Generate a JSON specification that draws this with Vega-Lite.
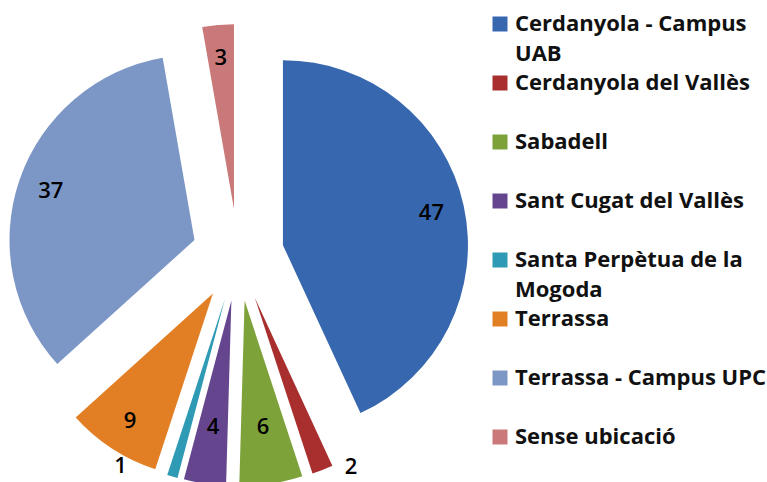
{
  "$schema": "https://vega.github.io/schema/vega-lite/v6.json",
  "autosize": "none",
  "width": 476,
  "height": 454,
  "padding": {"left": 0, "top": 28, "right": 291, "bottom": 0},
  "background": "white",
  "view": {"stroke": null},
  "data": {
    "values": [
      {"cat": "Cerdanyola - Campus UAB", "value": 47, "ord": 1},
      {"cat": "Cerdanyola del Vallès", "value": 2, "ord": 2},
      {"cat": "Sabadell", "value": 6, "ord": 3},
      {"cat": "Sant Cugat del Vallès", "value": 4, "ord": 4},
      {"cat": "Santa Perpètua de la Mogoda", "value": 1, "ord": 5},
      {"cat": "Terrassa", "value": 9, "ord": 6},
      {"cat": "Terrassa - Campus UPC", "value": 37, "ord": 7},
      {"cat": "Sense ubicació", "value": 3, "ord": 8}
    ]
  },
  "encoding": {
    "theta": {"field": "value", "type": "quantitative", "stack": true},
    "order": {"field": "ord", "type": "quantitative"},
    "color": {
      "field": "cat",
      "type": "nominal",
      "scale": {
        "domain": ["Cerdanyola - Campus UAB", "Cerdanyola del Vallès", "Sabadell", "Sant Cugat del Vallès", "Santa Perpètua de la Mogoda", "Terrassa", "Terrassa - Campus UPC", "Sense ubicació"],
        "range": ["#3767AE", "#A92F2F", "#7EA23A", "#65468E", "#2E9AB4", "#E27E24", "#7C97C6", "#C97979"]
      },
      "legend": {
        "title": null,
        "orient": "none",
        "legendX": 489,
        "legendY": -15,
        "padding": 0,
        "symbolType": "square",
        "symbolSize": 225,
        "symbolStrokeWidth": 0,
        "symbolOpacity": 1,
        "labelFont": "Open Sans",
        "labelFontSize": 22,
        "labelFontWeight": "bold",
        "labelColor": "#111111",
        "labelOffset": 4,
        "labelLimit": 300,
        "rowPadding": 7,
        "gridAlign": "all",
        "labelExpr": "datum.label == 'Cerdanyola - Campus UAB' ? ['Cerdanyola - Campus', 'UAB'] : datum.label == 'Santa Perpètua de la Mogoda' ? ['Santa Perpètua de la', 'Mogoda'] : datum.label",
        "encode": {"labels": {"update": {"lineHeight": {"value": 30}}}}
      }
    }
  },
  "layer": [
    {
      "mark": {
        "type": "arc",
        "outerRadius": 185,
        "xOffset": {"expr": "46*sin(scale('theta', (datum.value_start + datum.value_end)/2))"},
        "yOffset": {"expr": "-46*cos(scale('theta', (datum.value_start + datum.value_end)/2))"}
      }
    },
    {
      "mark": {
        "type": "text",
        "font": "Open Sans",
        "fontSize": 22,
        "fontWeight": 600,
        "color": "#000000",
        "radius": {"expr": "datum.value == 1 ? 197 : datum.value == 2 ? 195 : (datum.value == 4 || datum.value == 6) ? 128 : 152"},
        "thetaOffset": {"expr": "datum.value == 1 ? 0.27 : datum.value == 2 ? -0.142 : 0"},
        "xOffset": {"expr": "46*sin(scale('theta', (datum.value_start + datum.value_end)/2))"},
        "yOffset": {"expr": "-46*cos(scale('theta', (datum.value_start + datum.value_end)/2))"}
      },
      "encoding": {
        "text": {"field": "value", "type": "quantitative"},
        "color": {"value": "#000000"}
      }
    }
  ]
}
